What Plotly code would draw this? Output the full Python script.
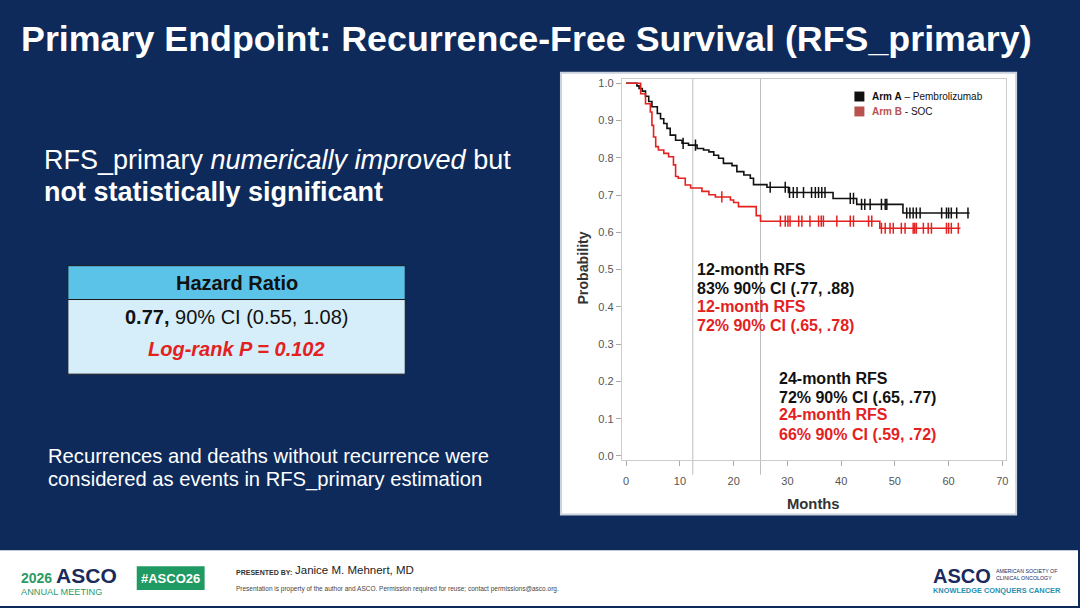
import numpy as np
import plotly.graph_objects as go

W, H = 1080, 608
NAVY = "#0e2a5b"
RED = "#e3211f"
FONT = "Liberation Sans, Arial, sans-serif"

# Arm A - Pembrolizumab (Kaplan-Meier steps)
months_a = [0, 2.0, 2.4, 3.0, 3.6, 4.2, 4.8, 5.8, 6.4, 7.0, 7.6, 8.2, 9.2, 10.4, 11.6,
            13.2, 14.4, 15.4, 16.3, 17.2, 18.1, 19.7, 20.6, 21.9, 23.1, 23.7, 26.2,
            30.2, 38.5, 42.9, 51.5, 63.9]
surv_a = [1.0, 0.993, 0.986, 0.979, 0.965, 0.951, 0.937, 0.919, 0.905, 0.892, 0.879,
          0.861, 0.847, 0.839, 0.834, 0.825, 0.821, 0.816, 0.807, 0.799, 0.785, 0.779,
          0.763, 0.754, 0.745, 0.728, 0.721, 0.707, 0.691, 0.675, 0.652, 0.652]
cens_a = [10.6, 12.9, 26.8, 29.6, 30.4, 31.1, 31.8, 33.0, 34.5, 35.2, 35.8, 36.4, 37.0,
          41.7, 42.3, 43.8, 44.4, 45.4, 47.5, 48.2, 48.5, 52.2, 52.8, 53.4, 54.0, 54.7,
          58.7, 59.6, 60.0, 60.5, 61.5, 63.6]

# Arm B - SOC
months_b = [0, 2.7, 3.6, 4.5, 4.8, 5.1, 5.5, 6.0, 7.0, 7.9, 8.8, 9.2, 9.7, 11.0, 12.0,
            14.1, 15.4, 16.6, 19.4, 20.0, 20.9, 24.2, 25.0, 47.2, 62.2]
surv_b = [1.0, 0.972, 0.945, 0.923, 0.887, 0.856, 0.830, 0.821, 0.812, 0.803, 0.781,
          0.750, 0.745, 0.727, 0.719, 0.710, 0.701, 0.695, 0.687, 0.680, 0.669, 0.645,
          0.630, 0.611, 0.611]
cens_b = [17.8, 28.7, 29.6, 30.1, 30.5, 32.1, 32.7, 34.2, 35.8, 36.3, 36.7, 39.2, 41.7,
          42.3, 45.1, 45.7, 47.5, 48.2, 49.1, 49.7, 51.2, 51.9, 53.4, 53.7, 54.0, 55.3,
          56.2, 56.8, 59.6, 60.0, 60.5, 61.8]

ref_months = [12.4, 25.0]
x_ticks = [0, 10, 20, 30, 40, 50, 60, 70]
y_ticks = [0.0, 0.1, 0.2, 0.3, 0.4, 0.5, 0.6, 0.7, 0.8, 0.9, 1.0]


def px(x):
    return x / W


def py(y):
    return 1 - y / H


def step_at(times, surv, t):
    i = np.searchsorted(times, t, side="right") - 1
    return np.asarray(surv)[i]


fig = go.Figure()

for m, s, c, col in [(months_a, surv_a, cens_a, "#111111"), (months_b, surv_b, cens_b, RED)]:
    fig.add_trace(go.Scatter(x=m, y=s, mode="lines", line=dict(color=col, width=1.6, shape="hv"),
                             showlegend=False, hoverinfo="skip"))
    fig.add_trace(go.Scatter(x=c, y=step_at(m, s, c), mode="markers",
                             marker=dict(symbol="line-ns", size=8, line=dict(color=col, width=1.5)),
                             showlegend=False, hoverinfo="skip"))

shapes = [
    # footer band
    dict(type="rect", xref="paper", yref="paper", x0=0, x1=1, y0=0, y1=py(552),
         fillcolor="white", line=dict(width=0), layer="below"),
    # chart panel
    dict(type="rect", xref="paper", yref="paper", x0=px(562), x1=px(1018), y0=py(516), y1=py(72),
         fillcolor="white", line=dict(color="#c9d2de", width=2), layer="below"),
    # table
    dict(type="rect", xref="paper", yref="paper", x0=px(68), x1=px(406), y0=py(300), y1=py(266),
         fillcolor="#5bc3e8", line=dict(color="#1a1a1a", width=1), layer="below"),
    dict(type="rect", xref="paper", yref="paper", x0=px(68), x1=px(406), y0=py(375), y1=py(300),
         fillcolor="#d6eefa", line=dict(color="#1a1a1a", width=1), layer="below"),
    # legend swatches
    dict(type="rect", xref="paper", yref="paper", x0=px(856), x1=px(866), y0=py(101), y1=py(91),
         fillcolor="#111111", line=dict(width=0)),
    dict(type="rect", xref="paper", yref="paper", x0=px(856), x1=px(866), y0=py(116), y1=py(106),
         fillcolor="#b9524e", line=dict(width=0)),
    # #ASCO26 badge
    dict(type="rect", xref="paper", yref="paper", x0=px(137), x1=px(205), y0=py(592), y1=py(568),
         fillcolor="#1f9a62", line=dict(width=0)),
]
for rm in ref_months:
    shapes.append(dict(type="line", xref="x", yref="paper", x0=rm, x1=rm, y0=py(476), y1=py(78),
                       line=dict(color="#bdbdbd", width=1), layer="below"))


def txt(x, y, s, size, color="white", anchor="left", angle=0, family=FONT):
    return dict(x=px(x), y=py(y), xref="paper", yref="paper", text=s, showarrow=False,
                xanchor=anchor, yanchor="middle", textangle=angle, align="left",
                font=dict(family=family, size=size, color=color))


ann = [
    txt(19, 38, "<b>Primary Endpoint: Recurrence-Free Survival (RFS_primary)</b>", 35.8),
    txt(42, 160, "RFS_primary <i>numerically improved</i> but", 27),
    txt(42, 192, "<b>not statistically significant</b>", 27),
    txt(237, 283, "<b>Hazard Ratio</b>", 20, "#111111", "center"),
    txt(237, 318, "<b>0.77,</b> 90% CI (0.55, 1.08)", 20, "#111111", "center"),
    txt(237, 350, "<b><i>Log-rank P = 0.102</i></b>", 20, RED, "center"),
    txt(46, 457, "Recurrences and deaths without recurrence were", 20.2),
    txt(46, 481, "considered as events in RFS_primary estimation", 20.2),
    # chart texts
    txt(584, 268, "<b>Probability</b>", 14.2, "#333333", "center", -90),
    txt(815, 505, "<b>Months</b>", 14.8, "#333333", "center"),
    txt(872, 96, "<b>Arm A</b> – Pembrolizumab", 10, "#111111"),
    txt(872, 111, "<span style='color:#b9524e'><b>Arm B</b></span> - SOC", 10, "#111111"),
    txt(696, 270, "<b>12-month RFS</b>", 16, "#111111"),
    txt(696, 289, "<b>83% 90% CI (.77, .88)</b>", 16, "#111111"),
    txt(696, 307, "<b>12-month RFS</b>", 16, RED),
    txt(696, 326, "<b>72% 90% CI (.65, .78)</b>", 16, RED),
    txt(778, 379, "<b>24-month RFS</b>", 16, "#111111"),
    txt(778, 398, "<b>72% 90% CI (.65, .77)</b>", 16, "#111111"),
    txt(778, 416, "<b>24-month RFS</b>", 16, RED),
    txt(778, 436, "<b>66% 90% CI (.59, .72)</b>", 16, RED),
    # footer
    txt(19, 582, "<b><span style='font-size:14px'>2026 </span>"
                 "<span style='color:#1b2a5c;font-size:21px'>ASCO</span></b><br>ANNUAL MEETING",
        9.2, "#2e9a66"),
    txt(171, 580, "<b>#ASCO26</b>", 13, "white", "center"),
    txt(234, 574, "<b>PRESENTED BY:</b>", 7, "#333333"),
    txt(294, 572, "Janice M. Mehnert, MD", 11.5, "#222222"),
    txt(234, 591, "Presentation is property of the author and ASCO. Permission required for reuse; "
                  "contact permissions@asco.org.", 6.5, "#444444"),
    txt(933, 582, "<b><span style='color:#1b2a5c;font-size:20px'>ASCO</span><br>"
                  "KNOWLEDGE CONQUERS CANCER</b>", 7.4, "#2a8fb0"),
    txt(996, 576.5, "AMERICAN SOCIETY OF<br>CLINICAL ONCOLOGY", 5.3, "#1b2a5c"),
]

axis_common = dict(showgrid=False, zeroline=False, showline=True, linecolor="#cccccc",
                   linewidth=1, mirror=True, ticks="outside", ticklen=5, tickcolor="#aaaaaa",
                   tickfont=dict(family=FONT, size=11, color="#555555"))

fig.update_layout(
    width=W, height=H, margin=dict(l=0, r=0, t=0, b=0),
    paper_bgcolor=NAVY, plot_bgcolor="rgba(0,0,0,0)",
    xaxis=dict(domain=[px(623), px(1008)], range=[-0.8, 70.7], tickvals=x_ticks,
               ticklabelstandoff=6, **axis_common),
    yaxis=dict(domain=[py(461), py(78)], range=[-0.01, 1.0125], tickvals=y_ticks,
               tickformat=".1f", **axis_common),
    shapes=shapes, annotations=ann, showlegend=False,
)

fig.write_html("out.html", config={"displayModeBar": False},
               post_script="document.body.style.margin='0';")
